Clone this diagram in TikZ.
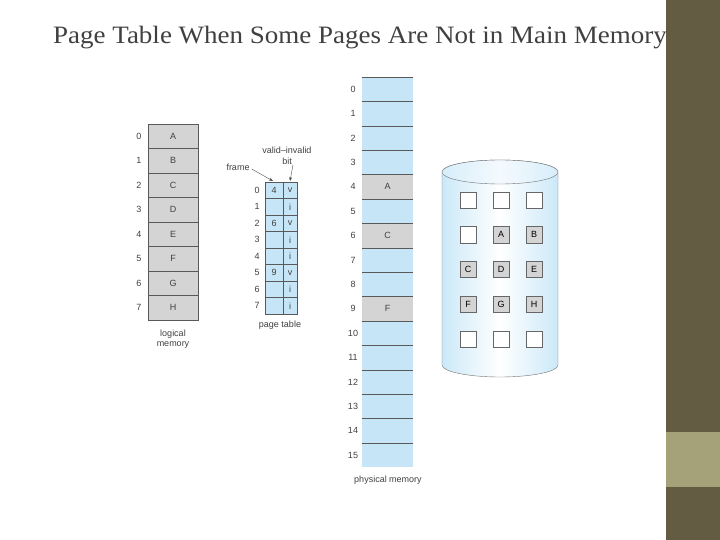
\documentclass[tikz,border=0pt]{standalone}
\usepackage{fontspec}
\setmainfont{Liberation Serif}
\setsansfont{Liberation Sans}
\usetikzlibrary{arrows.meta,calc}
\definecolor{cellblue}{HTML}{C6E6F8}
\definecolor{cellgray}{HTML}{D4D4D4}
\definecolor{stripdark}{HTML}{635B42}
\definecolor{striplight}{HTML}{A5A27A}
\tikzset{
	lbl/.style={font=\sffamily\fontsize{9}{10.5}\selectfont, text=black!75, inner sep=0pt},
	slot/.style={draw=black!60, fill=white, minimum size=16pt, inner sep=0pt, font=\sffamily\fontsize{9}{10}\selectfont}
}
\begin{document}
\begin{tikzpicture}[x=1pt,y=-1pt]
        \useasboundingbox (0,0) rectangle (720,540);
        % Slide strip
        \fill[stripdark] (666,0) rectangle (720,540);
        \fill[striplight] (666,432) rectangle (720,487);
        \node[text=black!75, font=\fontsize{25}{28}\selectfont, xscale=1.08] (title) at (360,38) {Page Table When Some Pages Are Not in Main Memory};

        % Logical memory
        \foreach \l [count=\i from 0] in {A,B,C,D,E,F,G,H} {
            \fill[cellgray] (148,124+24.5*\i) rectangle (198,148.5+24.5*\i);
            \draw[black!65] (148,124+24.5*\i) -- (198,124+24.5*\i);
            \node[lbl] (lm\i) at (173,136.25+24.5*\i) {\l};
            \node[lbl] (li\i) at (139,136.25+24.5*\i) {\i};
        }
        \draw[black!65] (148,124) rectangle (198,320);
        \node[lbl, align=center] (lmlabel) at (173,339) {logical\\memory};

        % Page table
        \fill[cellblue] (265,182) rectangle (297,314);
        \foreach \f/\b [count=\i from 0] in {4/v,/i,6/v,/i,/i,9/v,/i,/i} {
            \draw[black!65] (265,182+16.5*\i) -- (297,182+16.5*\i);
            \node[lbl] (pf\i) at (274,190.25+16.5*\i) {\f};
            \node[lbl] (pb\i) at (290,190.25+16.5*\i) {\b};
            \node[lbl] (pi\i) at (257,190.25+16.5*\i) {\i};
        }
        \draw[black!65] (265,182) rectangle (297,314);
        \draw[black!65] (283,182) -- (283,314);
        \node[lbl] (ptlabel) at (280,325) {page table};
        \node[lbl] (frame) at (238,167) {frame};
        \node[lbl, align=center] (vib) at (287,156) {valid--invalid\\bit};
        \draw[-{Stealth[length=4pt]}, black!70] (frame.east) ++(2,2) -- (273,181);
        \draw[-{Stealth[length=4pt]}, black!70] (vib.south) ++(6,0) -- (290,181);

        % Physical memory
        \foreach \i in {0,...,15} {
            \fill[cellblue] (362,77+24.4*\i) rectangle (413,101.4+24.4*\i);
            \draw[black!65] (362,77+24.4*\i) -- (413,77+24.4*\i);
            \node[lbl] (fn\i) at (353,89.2+24.4*\i) {\i};
        }
        \foreach \i/\l in {4/A,6/C,9/F} {
            \fill[cellgray] (362,77+24.4*\i) rectangle (413,101.4+24.4*\i);
            \draw[black!65] (362,77+24.4*\i) -- (413,77+24.4*\i) (362,101.4+24.4*\i) -- (413,101.4+24.4*\i);
            \node[lbl] (pm\i) at (387.5,89.2+24.4*\i) {\l};
        }
        \node[lbl] (pmlabel) at (388,480) {physical memory};

        % Backing store
        \shade[left color=cellblue!90, right color=cellblue!90, middle color=white, draw=black!55]
            (442,172) -- (442,365) arc[start angle=180, end angle=0, x radius=58, y radius=12]
            -- (558,172) arc[start angle=0, end angle=-180, x radius=58, y radius=12] -- cycle;
        \shade[left color=cellblue!70, right color=cellblue!70, middle color=white!80!cellblue, draw=black!55]
            (500,172) ellipse[x radius=58, y radius=12];
        \foreach \l [count=\k from 0] in {,,,,A,B,C,D,E,F,G,H,,,} {
            \pgfmathtruncatemacro{\r}{int(\k/3)}
            \pgfmathtruncatemacro{\c}{mod(\k,3)}
            \ifx\l\empty
              \node[slot] (d\k) at (468+33*\c,200+34.7*\r) {};
            \else
              \node[slot, fill=cellgray] (d\k) at (468+33*\c,200+34.7*\r) {\l};
            \fi
        }
\end{tikzpicture}
\end{document}
